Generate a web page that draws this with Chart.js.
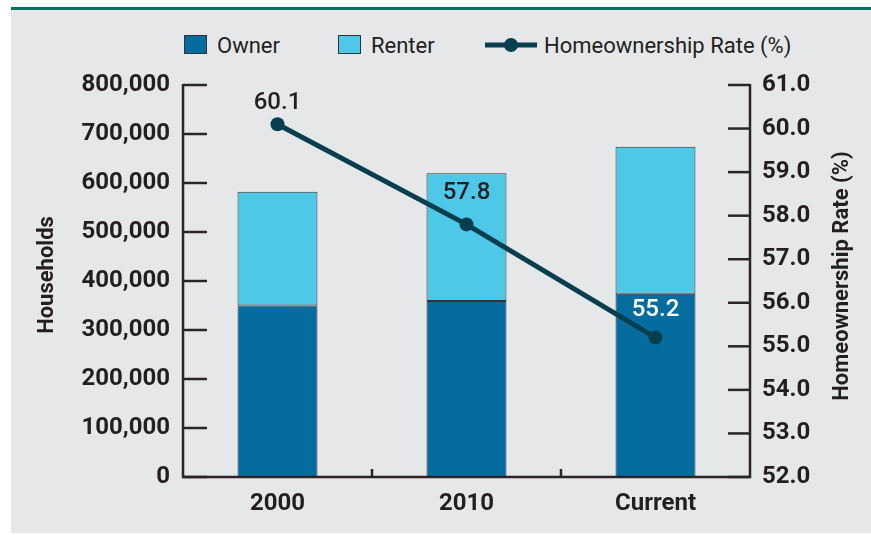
<!DOCTYPE html>
<html>
<head>
<meta charset="utf-8">
<script src="https://cdn.jsdelivr.net/npm/chart.js@4/dist/chart.umd.min.js"></script>
<style>
    body { margin: 0; background: #ffffff; font-family: Roboto, sans-serif; }
    #wrap { position: relative; width: 871px; height: 535px; overflow: hidden; }
    #rule { position: absolute; left: 11px; top: 7px; width: 860px; height: 3px; background: #0f6e63; }
    #panel { position: absolute; left: 11px; top: 10px; width: 860px; height: 523px; background: #e6e7e9; }
    #chart { position: absolute; left: 0; top: 0; }
    .lg { position: absolute; top: 45px; transform: translateY(-50%); font-size: 22px; color: #231f20; white-space: nowrap; }
    .sw { position: absolute; top: 35px; width: 21px; height: 17px; border: 1.5px solid #333; }
</style>
</head>
<body>
<div id="wrap">
    <div id="rule"></div>
    <div id="panel"></div>
    <div class="sw" style="left:184px; background:#046c9f;"></div>
    <div class="lg" style="left:217px;">Owner</div>
    <div class="sw" style="left:338px; background:#4dc8e8;"></div>
    <div class="lg" style="left:371px;">Renter</div>
    <svg style="position:absolute; left:484px; top:35px;" width="54" height="20">
        <line x1="1" y1="10" x2="53" y2="10" stroke="#083f4e" stroke-width="5"/>
        <circle cx="27" cy="10" r="7" fill="#083f4e"/>
    </svg>
    <div class="lg" style="left:544px;">Homeownership Rate (%)</div>
    <canvas id="chart" width="871" height="535"></canvas>
</div>
<script>
// Data
const categories = ['2000', '2010', 'Current'];
const ownerHouseholds = [350000, 359000, 374000];
const renterHouseholds = [232000, 261000, 300000];
const homeownershipRate = [60.1, 57.8, 55.2];
const rateLabelColors = ['#231f20', '#231f20', '#ffffff'];
const rateLabelLift = [21, 31, 28];

const axisColor = '#2a2627';
const tickFont = { family: 'Roboto', size: 24, weight: 'bold' };

// Draw axis lines, inward tick marks, point labels and rotated axis titles
const axisDecor = {
    id: 'axisDecor',
    afterDatasetsDraw(chart) {
        const ctx = chart.ctx;
        const a = chart.chartArea;
        const y = chart.scales.y;
        const y1 = chart.scales.y1;
        const x = chart.scales.x;

        ctx.save();
        ctx.strokeStyle = axisColor;
        ctx.lineWidth = 2.5;
        ctx.lineCap = 'butt';

        ctx.beginPath();
        ctx.moveTo(a.left, a.top - 1);
        ctx.lineTo(a.left, a.bottom);
        ctx.lineTo(a.right, a.bottom);
        ctx.lineTo(a.right, a.top - 1);
        ctx.stroke();

        y.ticks.forEach(t => {
            const py = y.getPixelForValue(t.value);
            ctx.beginPath();
            ctx.moveTo(a.left, py);
            ctx.lineTo(a.left + 24, py);
            ctx.stroke();
        });
        y1.ticks.forEach(t => {
            const py = y1.getPixelForValue(t.value);
            ctx.beginPath();
            ctx.moveTo(a.right, py);
            ctx.lineTo(a.right - 22, py);
            ctx.stroke();
        });
        for (let i = 0; i < categories.length - 1; i++) {
            const px = (x.getPixelForValue(i) + x.getPixelForValue(i + 1)) / 2;
            ctx.beginPath();
            ctx.moveTo(px, a.bottom);
            ctx.lineTo(px, a.bottom - 8);
            ctx.stroke();
        }

        // rate labels
        const meta = chart.getDatasetMeta(2);
        ctx.font = '500 24px Roboto';
        ctx.textAlign = 'center';
        ctx.textBaseline = 'middle';
        meta.data.forEach((pt, i) => {
            ctx.fillStyle = rateLabelColors[i];
            ctx.fillText(homeownershipRate[i].toFixed(1), pt.x, pt.y - rateLabelLift[i]);
        });

        // axis titles
        ctx.fillStyle = '#231f20';
        ctx.font = 'bold 22px Roboto';
        ctx.translate(47, 275);
        ctx.rotate(-Math.PI / 2);
        ctx.fillText('Households', 0, 0);
        ctx.setTransform(1, 0, 0, 1, 0, 0);
        ctx.translate(842, 276);
        ctx.rotate(-Math.PI / 2);
        ctx.fillText('Homeownership Rate (%)', 0, 0);
        ctx.restore();
    }
};

new Chart(document.getElementById('chart'), {
    type: 'bar',
    data: {
        labels: categories,
        datasets: [
            {
                label: 'Owner',
                data: ownerHouseholds,
                backgroundColor: '#046c9f',
                borderColor: '#333333',
                borderWidth: 1,
                borderSkipped: false,
                yAxisID: 'y',
                order: 1
            },
            {
                label: 'Renter',
                data: renterHouseholds,
                backgroundColor: '#4dc8e8',
                borderColor: '#333333',
                borderWidth: 1,
                borderSkipped: false,
                yAxisID: 'y',
                order: 1
            },
            {
                type: 'line',
                label: 'Homeownership Rate (%)',
                data: homeownershipRate,
                borderColor: '#083f4e',
                backgroundColor: '#083f4e',
                borderWidth: 5,
                pointRadius: 7,
                pointBackgroundColor: '#083f4e',
                pointBorderWidth: 0,
                yAxisID: 'y1',
                order: 0
            }
        ]
    },
    options: {
        responsive: false,
        animation: false,
        datasets: {
            bar: { categoryPercentage: 1, barPercentage: 0.423 }
        },
        layout: { padding: { top: 85, left: 0, right: 0, bottom: 0 } },
        plugins: {
            legend: { display: false },
            tooltip: { enabled: false }
        },
        scales: {
            x: {
                stacked: true,
                grid: { display: false, drawTicks: false },
                border: { display: false },
                ticks: { color: '#231f20', font: tickFont, padding: 13 },
                afterFit: s => { s.height = 58; }
            },
            y: {
                position: 'left',
                stacked: true,
                min: 0,
                max: 800000,
                grid: { display: false, drawTicks: false },
                border: { display: false },
                ticks: {
                    stepSize: 100000,
                    color: '#231f20',
                    font: tickFont,
                    padding: 13,
                    callback: v => v.toLocaleString('en-US')
                },
                afterFit: s => { s.width = 183; }
            },
            y1: {
                position: 'right',
                min: 52,
                max: 61,
                grid: { display: false, drawTicks: false },
                border: { display: false },
                ticks: {
                    stepSize: 1,
                    color: '#231f20',
                    font: tickFont,
                    padding: 12,
                    callback: v => v.toFixed(1)
                },
                afterFit: s => { s.width = 121; }
            }
        }
    },
    plugins: [axisDecor]
});
</script>
</body>
</html>
